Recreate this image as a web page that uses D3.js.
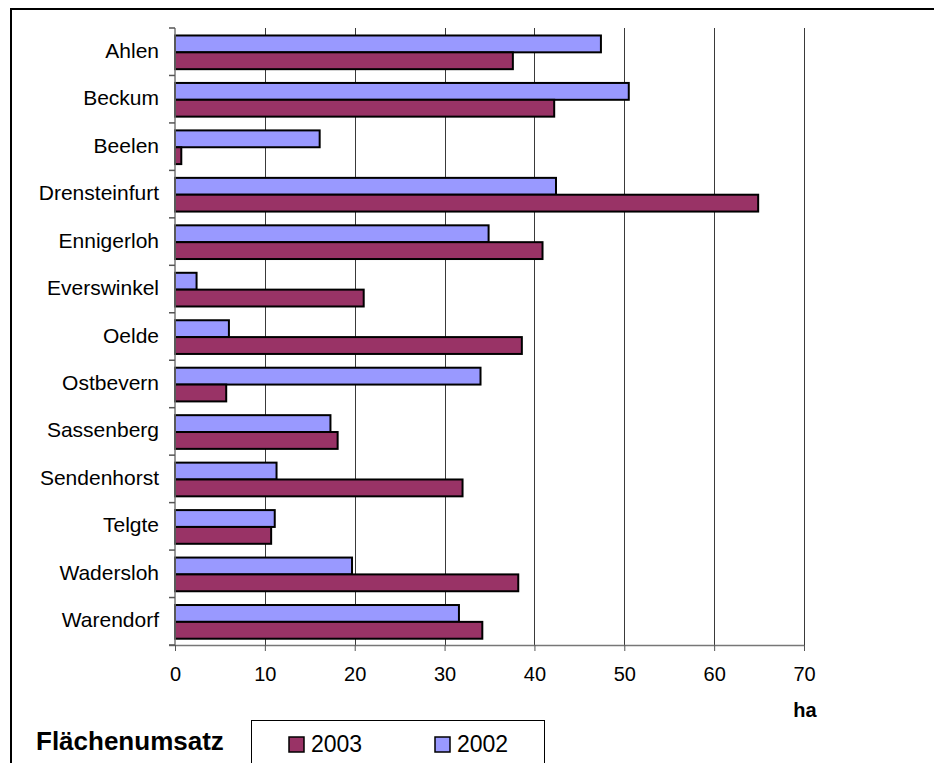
<!DOCTYPE html>
<html>
<head>
<meta charset="utf-8">
<script src="https://cdn.jsdelivr.net/npm/d3@7"></script>
<style>
  html, body { margin: 0; padding: 0; background: #fff; }
  svg { display: block; }
  text { font-family: "Liberation Sans", Arial, sans-serif; fill: #000; }
</style>
</head>
<body>
<svg id="chart" width="934" height="763"></svg>
<script>
const categories = ["Ahlen","Beckum","Beelen","Drensteinfurt","Ennigerloh","Everswinkel","Oelde","Ostbevern","Sassenberg","Sendenhorst","Telgte","Wadersloh","Warendorf"];
const values2002 = [47.4, 50.5, 16.1, 42.4, 34.9, 2.4, 6.0, 34.0, 17.3, 11.3, 11.1, 19.7, 31.6];
const values2003 = [37.6, 42.2, 0.7, 64.9, 40.9, 21.0, 38.6, 5.7, 18.1, 32.0, 10.7, 38.2, 34.2];
const xTicks = [0, 10, 20, 30, 40, 50, 60, 70];
const seriesNames = ["2003", "2002"];
const seriesColors = {"2003": "#993366", "2002": "#9999FF"};

(function () {
const svg = d3.select("#chart");

// outer frame (left and top edges visible)
svg.append("path")
  .attr("d", "M11,770 V9 H940")
  .attr("fill", "none").attr("stroke", "#000").attr("stroke-width", 2);

const pLeft = 175, pRight = 804, pTop = 28, pBottom = 645;
const x = d3.scaleLinear().domain([0, 70]).range([pLeft, pRight]);
const y = d3.scaleBand().domain(categories).range([pTop, pBottom]).paddingInner(0).paddingOuter(0);
const bw = y.bandwidth();
const barH = bw * 0.355;
const offset = (bw - 2 * barH) / 2 + 0.6;

// gridlines
svg.append("g").selectAll("line").data(xTicks.filter(d => d > 0)).join("line")
  .attr("x1", d => Math.round(x(d)) + 0.5).attr("x2", d => Math.round(x(d)) + 0.5)
  .attr("y1", pTop).attr("y2", pBottom)
  .attr("stroke", "#3a3a3a").attr("stroke-width", 1);

// bars 2002 (upper) and 2003 (lower)
const g = svg.append("g");
g.selectAll("rect.b2002").data(categories).join("rect")
  .attr("class", "b2002")
  .attr("x", x(0))
  .attr("y", d => y(d) + offset)
  .attr("width", (d, i) => x(values2002[i]) - x(0))
  .attr("height", barH)
  .attr("fill", seriesColors["2002"]).attr("stroke", "#000").attr("stroke-width", 2);
g.selectAll("rect.b2003").data(categories).join("rect")
  .attr("class", "b2003")
  .attr("x", x(0))
  .attr("y", d => y(d) + offset + barH)
  .attr("width", (d, i) => x(values2003[i]) - x(0))
  .attr("height", barH)
  .attr("fill", seriesColors["2003"]).attr("stroke", "#000").attr("stroke-width", 2);

// x axis
const xAxis = d3.axisBottom(x).tickValues(xTicks).tickSize(6).tickPadding(16).tickFormat(d3.format("d"));
const xa = svg.append("g").attr("transform", `translate(0,${pBottom})`).call(xAxis);
xa.select(".domain").attr("d", `M${pLeft - 6},0.5H${pRight}`).attr("stroke", "#777").attr("stroke-width", 1.5);
xa.selectAll(".tick line").attr("stroke", "#555");
xa.selectAll(".tick text").attr("font-size", 20).attr("font-family", "Liberation Sans, Arial, sans-serif").attr("fill", "#000");

// y axis
const boundaries = categories.map(c => y(c)).concat([pBottom]);
svg.append("line").attr("x1", pLeft).attr("x2", pLeft).attr("y1", pTop).attr("y2", pBottom)
  .attr("stroke", "#777").attr("stroke-width", 1.5);
svg.append("g").selectAll("line").data(boundaries).join("line")
  .attr("x1", pLeft - 6).attr("x2", pLeft).attr("y1", d => d).attr("y2", d => d)
  .attr("stroke", "#555").attr("stroke-width", 1.5);
svg.append("g").selectAll("text").data(categories).join("text")
  .attr("x", 159).attr("y", d => y(d) + bw / 2 + 6)
  .attr("text-anchor", "end").attr("font-size", 21)
  .text(d => d);

// axis unit
svg.append("text").attr("x", x(70) + 1).attr("y", 717).attr("text-anchor", "middle")
  .attr("font-size", 20).attr("font-weight", "bold").text("ha");

// title
svg.append("text").attr("x", 36).attr("y", 750).attr("font-size", 26).attr("font-weight", "bold")
  .text("Flächenumsatz");

// legend
svg.append("rect").attr("x", 251.5).attr("y", 720.5).attr("width", 293).attr("height", 60)
  .attr("fill", "#fff").attr("stroke", "#000").attr("stroke-width", 1);
const legX = {"2003": 289, "2002": 435};
seriesNames.forEach(s => {
  svg.append("rect").attr("x", legX[s]).attr("y", 737).attr("width", 15).attr("height", 15)
    .attr("fill", seriesColors[s]).attr("stroke", "#000").attr("stroke-width", 1.5);
  svg.append("text").attr("x", legX[s] + 22).attr("y", 752).attr("font-size", 23).text(s);
});
})();
</script>
</body>
</html>
